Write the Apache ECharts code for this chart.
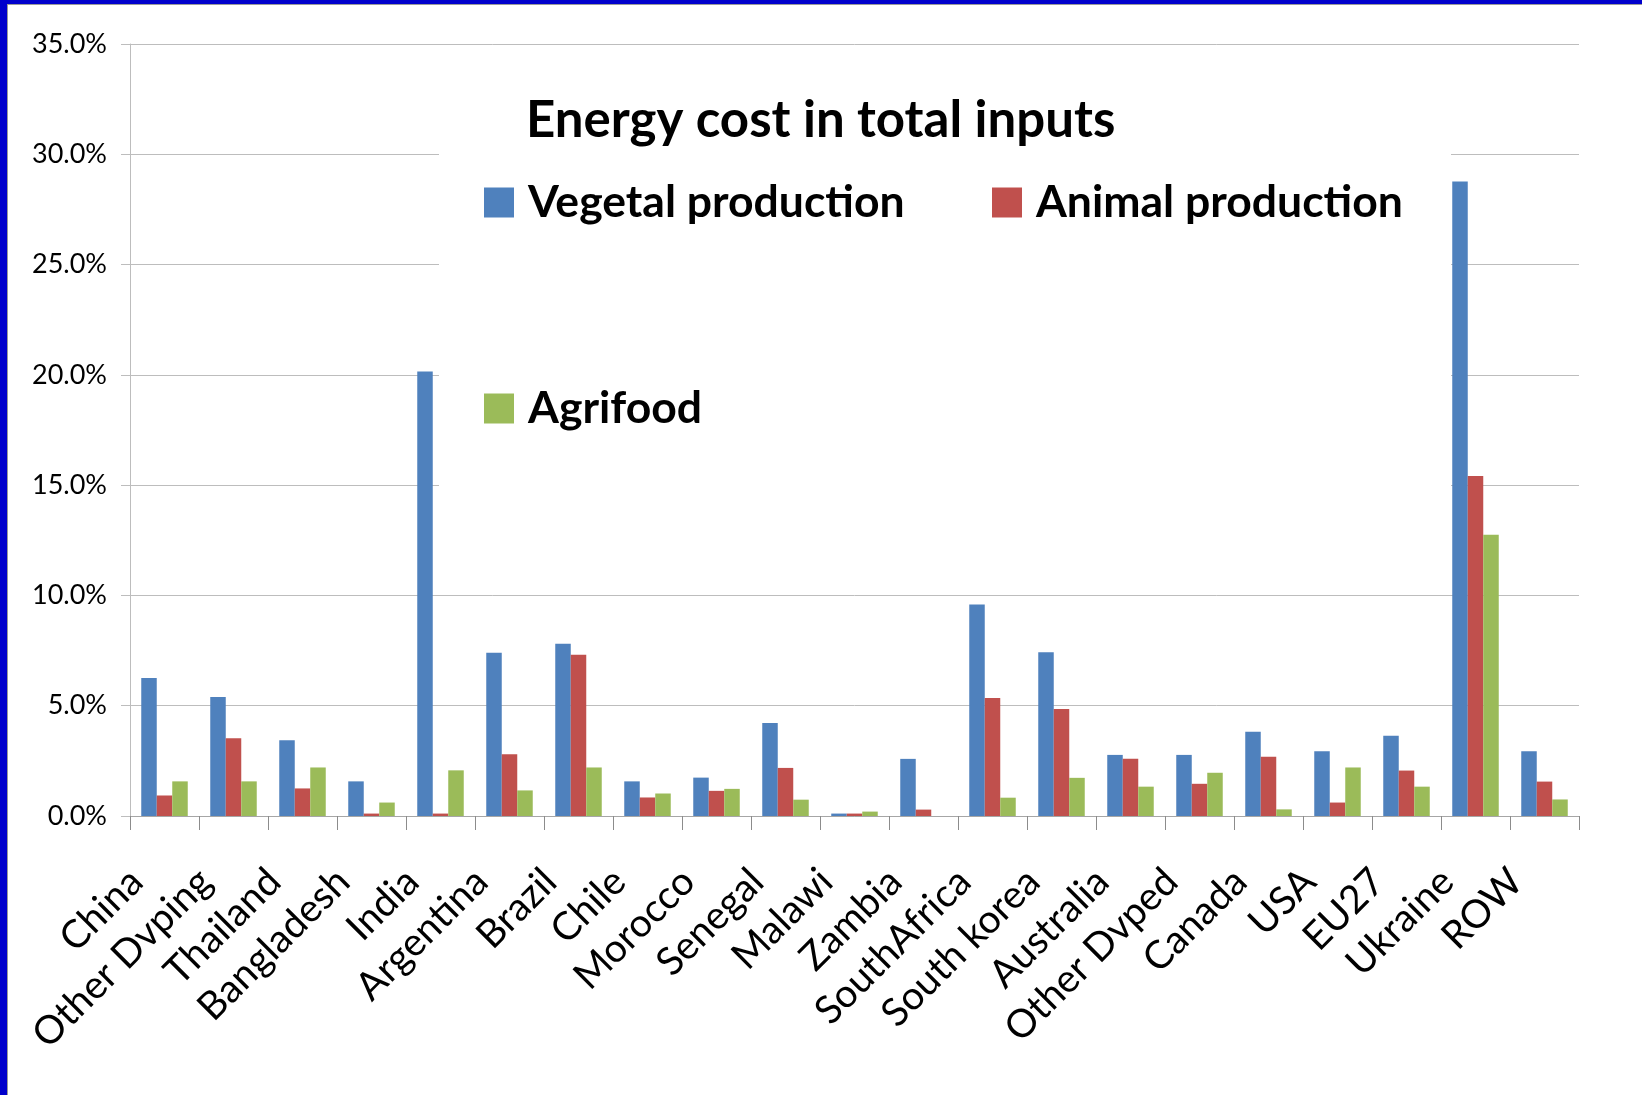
<!DOCTYPE html>
<html>
<head>
<meta charset="utf-8">
<title>Energy cost in total inputs</title>
<script src="https://cdn.jsdelivr.net/npm/echarts@6/dist/echarts.min.js"></script>
<style>
  html, body { margin: 0; padding: 0; background: #fff; }
  #chart { position: absolute; left: 0; top: 0; width: 1642px; height: 1095px; }
  /* slide frame: blue band on the top and left edges */
  #frame { position: absolute; left: 0; top: 0; width: 1642px; height: 1095px;
           box-sizing: border-box; border-left: 7px solid #0000CC; border-top: 4px solid #0000CC;
           pointer-events: none; }
  #frame div { position: absolute; left: 0; top: 0; right: 0; bottom: 0;
               border-left: 1px solid #9a9a9a; border-top: 1px solid #9a9a9a; }
</style>
</head>
<body>
<div id="chart"></div>
<div id="frame"><div></div></div>
<script>
// Regions / countries along the category axis
const categories = ['China', 'Other Dvping', 'Thailand', 'Bangladesh', 'India', 'Argentina',
  'Brazil', 'Chile', 'Morocco', 'Senegal', 'Malawi', 'Zambia', 'SouthAfrica', 'South korea',
  'Australia', 'Other Dvped', 'Canada', 'USA', 'EU27', 'Ukraine', 'ROW'];

// Energy cost share in total inputs (%)
const vegetal  = [6.26, 5.40, 3.43, 1.57, 20.15, 7.40, 7.81, 1.57, 1.74, 4.22, 0.11, 2.59, 9.59, 7.42, 2.77, 2.77, 3.82, 2.93, 3.64, 28.77, 2.93];
const animal   = [0.93, 3.53, 1.25, 0.11, 0.11, 2.80, 7.31, 0.84, 1.14, 2.18, 0.11, 0.29, 5.35, 4.85, 2.59, 1.46, 2.69, 0.61, 2.06, 15.41, 1.56];
const agrifood = [1.57, 1.57, 2.20, 0.61, 2.07, 1.16, 2.20, 1.02, 1.23, 0.74, 0.20, 0.00, 0.83, 1.73, 1.33, 1.96, 0.30, 2.20, 1.33, 12.75, 0.75];

// Value axis ticks: 0.0% .. 35.0% every 5 points
const yMin = 0, yMax = 35, yStep = 5;

const seriesNames = ['Vegetal production', 'Animal production', 'Agrifood'];
const seriesColors = ['#4F81BD', '#C0504D', '#9BBB59'];

const FONT = 'Lato, "Open Sans", sans-serif';

const chart = echarts.init(document.getElementById('chart'), null, { renderer: 'canvas' });

const legendBase = {
  orient: 'horizontal',
  icon: 'rect',
  itemWidth: 30,
  itemHeight: 30,
  selectedMode: false,
  padding: 0,
  textStyle: { fontFamily: FONT, fontSize: 44.5, fontWeight: 'bold', color: '#000',
               lineHeight: 30, padding: [7, 0, 0, 9] }
};

const option = {
  backgroundColor: '#fff',
  animation: false,
  title: {
    text: 'Energy cost in total inputs',
    left: 526,
    top: 95,
    padding: 0,
    textStyle: { fontFamily: FONT, fontSize: 51, fontWeight: 'bold', color: '#000', lineHeight: 51 }
  },
  legend: [
    Object.assign({}, legendBase, { data: [seriesNames[0]], left: 484, top: 180 }),
    Object.assign({}, legendBase, { data: [seriesNames[1]], left: 992, top: 180 }),
    Object.assign({}, legendBase, { data: [seriesNames[2]], left: 484, top: 386 })
  ],
  // white backdrop behind the title and legend block
  graphic: [{
    type: 'rect',
    z: 3,
    shape: { x: 439, y: 60, width: 1012, height: 480 },
    style: { fill: '#fff' },
    silent: true
  }],
  grid: { left: 130, right: 63, top: 44, bottom: 279, containLabel: false },
  xAxis: {
    type: 'category',
    data: categories,
    boundaryGap: true,
    axisLine: { show: true, lineStyle: { color: '#A6A6A6', width: 1 } },
    axisTick: { show: true, length: 14, inside: false, alignWithLabel: false,
                lineStyle: { color: '#8C8C8C', width: 1 } },
    axisLabel: {
      interval: 0, rotate: 45, margin: 31, padding: [0, 40, 0, 0],
      fontFamily: FONT, fontSize: 39, color: '#000'
    },
    splitLine: { show: false }
  },
  yAxis: {
    type: 'value',
    min: yMin, max: yMax, interval: yStep,
    axisLine: { show: true, lineStyle: { color: '#BDBDBD', width: 1 } },
    axisTick: { show: true, length: 9, lineStyle: { color: '#BDBDBD', width: 1 } },
    axisLabel: {
      margin: 23, fontFamily: FONT, fontSize: 27, color: '#000',
      formatter: v => v.toFixed(1) + '%'
    },
    splitLine: { show: true, lineStyle: { color: '#BDBDBD', width: 1 } }
  },
  series: [vegetal, animal, agrifood].map((vals, i) => ({
    name: seriesNames[i],
    type: 'bar',
    data: vals,
    barWidth: 15.5,
    barGap: '0%',
    itemStyle: { color: seriesColors[i] },
    emphasis: { disabled: true }
  }))
};

chart.setOption(option);
</script>
</body>
</html>
